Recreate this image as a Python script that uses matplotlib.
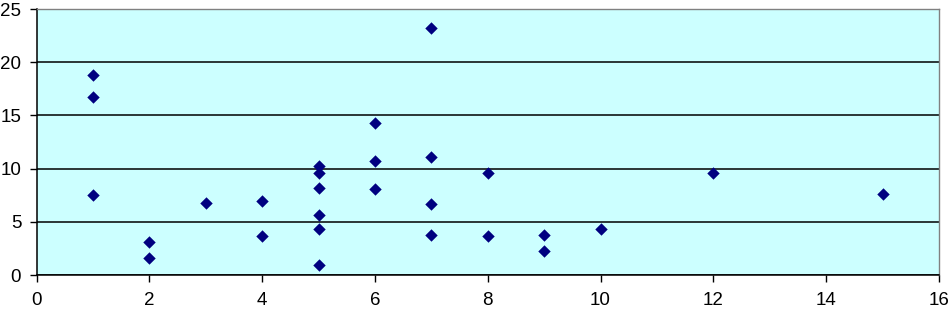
import matplotlib
matplotlib.use("Agg")
import matplotlib.pyplot as plt

x_vals = [1, 1, 1, 2, 2, 3, 4, 4, 5, 5, 5, 5, 5, 5, 6, 6, 6, 7, 7, 7, 7, 8, 8, 9, 9, 10, 12, 15]
y_vals = [18.8, 16.7, 7.5, 3.1, 1.6, 6.8, 7.0, 3.65, 10.2, 9.6, 8.2, 5.6, 4.3, 0.9,
          14.3, 10.7, 8.05, 23.2, 11.1, 6.7, 3.8, 9.6, 3.65, 3.8, 2.3, 4.3, 9.6, 7.6]
x_ticks = [0, 2, 4, 6, 8, 10, 12, 14, 16]
y_ticks = [0, 5, 10, 15, 20, 25]

plt.rcParams['font.family'] = ['Liberation Sans', 'DejaVu Sans']
fig = plt.figure(figsize=(9.5, 3.11), dpi=100)
ax = fig.add_axes([36.5/950, 36/311, 902.5/950, 266/311])
ax.set_facecolor('#CCFFFF')
ax.scatter(x_vals, y_vals, marker='D', s=40, color='#000080', zorder=3, linewidths=0)
ax.set_xlim(0, 16)
ax.set_ylim(0, 25)
ax.set_xticks(x_ticks)
ax.set_yticks(y_ticks)
ax.yaxis.grid(True, color='black', linewidth=1.1)
ax.set_axisbelow(True)
for s in ['top', 'right']:
    ax.spines[s].set_color('#808080')
    ax.spines[s].set_linewidth(1)
for s in ['left', 'bottom']:
    ax.spines[s].set_color('black')
    ax.spines[s].set_linewidth(1.1)
ax.tick_params(direction='out', length=5, width=1, labelsize=13.5, colors='black')
ax.tick_params(axis='x', pad=7)
ax.tick_params(axis='y', pad=6)
fig.savefig('out.png', dpi=100)
